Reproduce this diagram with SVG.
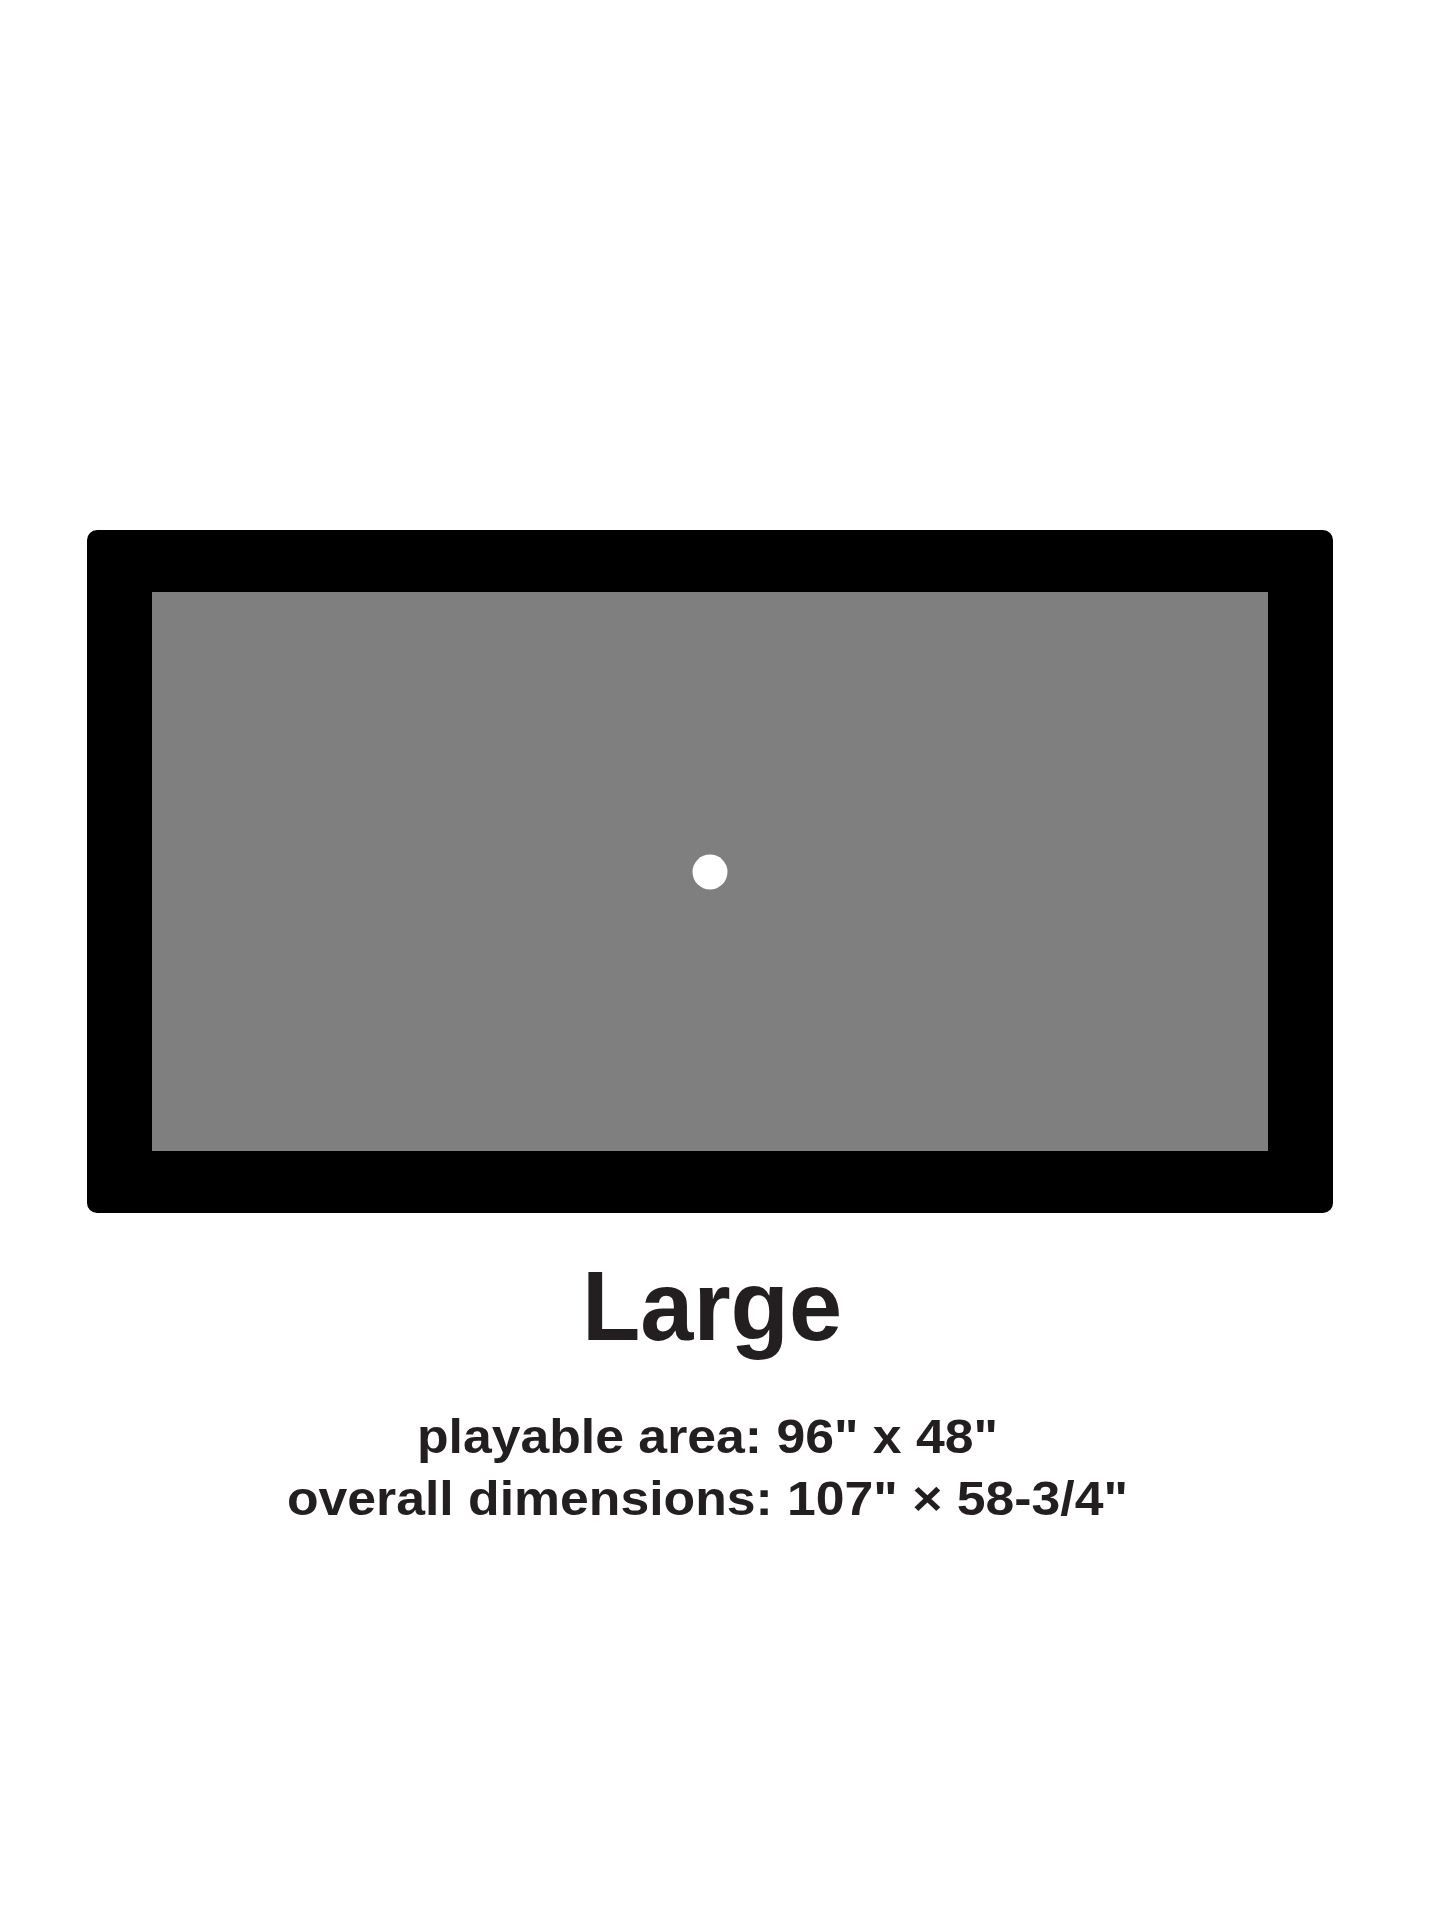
<svg xmlns="http://www.w3.org/2000/svg" width="1445" height="1927" viewBox="0 0 1445 1927">
<style>
.t{font-family:"Liberation Sans",Arial,sans-serif;font-weight:bold;fill:#231f20;text-anchor:middle}
</style>
<rect width="1445" height="1927" fill="#ffffff"/>
<g id="table">
<rect x="87" y="530" width="1246" height="683" rx="10" ry="10" fill="#000000"/>
<rect x="152" y="592" width="1116" height="559" fill="#7f7f7f"/>
<circle cx="710" cy="872" r="17.5" fill="#ffffff"/>
</g>
<g id="labels">
<text class="t" x="712" y="1340" font-size="98" textLength="260" lengthAdjust="spacingAndGlyphs">Large</text>
<text class="t" x="707.5" y="1453" font-size="49" textLength="581" lengthAdjust="spacingAndGlyphs">playable area: 96" x 48"</text>
<text class="t" x="707.5" y="1515" font-size="49" textLength="841" lengthAdjust="spacingAndGlyphs">overall dimensions: 107" × 58-3/4"</text>
</g>
</svg>
